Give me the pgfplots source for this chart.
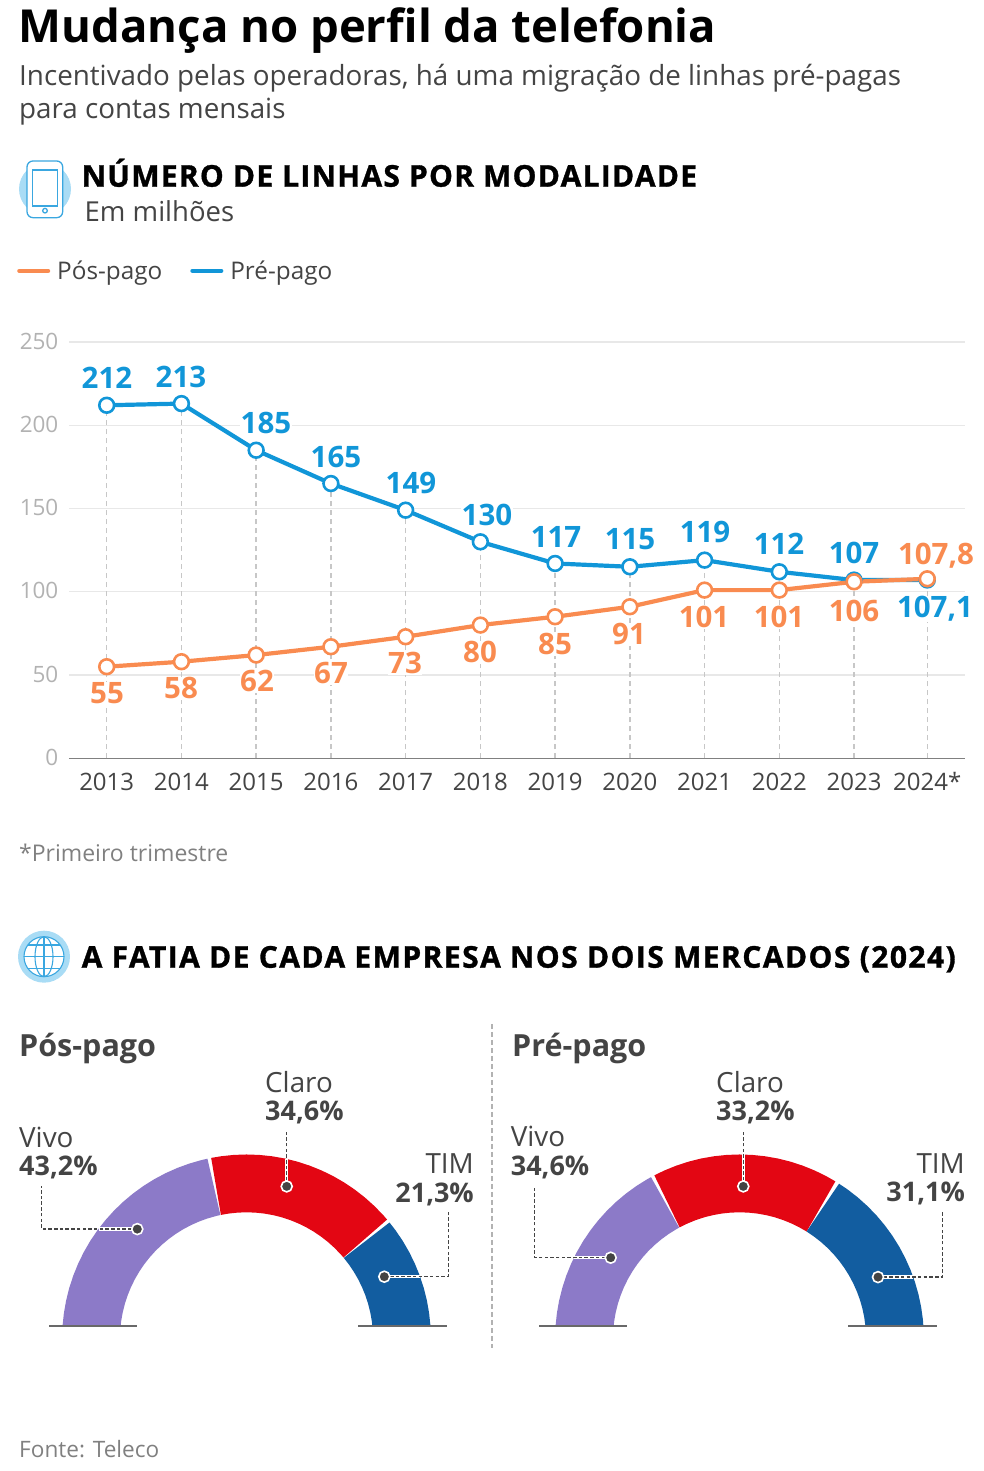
\documentclass[border=0pt]{standalone}
\usepackage{fontspec}
\usepackage{pgfplots}
\pgfplotsset{compat=1.18}
\setmainfont{Open Sans}
\newfontfamily\xb[BoldFeatures={FakeBold=1.1,LetterSpace=4.2}]{Open Sans}
\newfontfamily\xc[BoldFeatures={FakeBold=1.1,LetterSpace=4.8}]{Open Sans}
\newcommand{\fs}[1]{\fontsize{#1}{#1}\selectfont}
\definecolor{pos}{HTML}{F98B50}
\definecolor{pre}{HTML}{1196D8}
\definecolor{vivo}{HTML}{8C7AC8}
\definecolor{claro}{HTML}{E30613}
\definecolor{tim}{HTML}{125DA0}
\definecolor{txt}{HTML}{444444}
\definecolor{icon}{HTML}{A9DCF5}
\definecolor{iconl}{HTML}{3AA7E0}

% line chart data, in millions
\pgfplotstableread{
x y
2013 212
2014 213
2015 185
2016 165
2017 149
2018 130
2019 117
2020 115
2021 119
2022 112
2023 107
2023.98 107.1
}\prepago
\pgfplotstableread{
x y
2013 55
2014 58
2015 62
2016 67
2017 73
2018 80
2019 85
2020 91
2021 101
2022 101
2023 106
2023.98 107.8
}\pospago

\pgfplotsset{
  donut/.style={scale only axis, width=430pt, height=202.5pt, anchor=south west,
    axis lines=none, xmin=-215, xmax=215, ymin=12.5, ymax=215},
  arc/.style={no marks, line width=57.8pt, color=#1},
  leader/.style={no marks, dash pattern=on 3.5pt off 2.2pt, color=txt, line width=1.5pt},
  under/.style={no marks, color=white, line width=3.5pt},
  dot/.style={only marks, mark=*, mark size=5.5, mark options={draw=white, fill=txt, line width=1.6pt}},
  base/.style={no marks, color=txt!80, line width=3.2pt},
}
\tikzset{
  val/.style={anchor=base, fill=white, inner sep=0.5pt, font=\fs{29.5}\bfseries},
  lab/.style={inner sep=0pt, text=txt, font=\fs{27.8}},
  labb/.style={inner sep=0pt, text=txt, font=\fs{27}\bfseries},
}

\begin{document}
\begin{tikzpicture}
\useasboundingbox (0,0) rectangle (984pt,1471pt);

% line chart: one unit of y is 1.665 px
\begin{axis}[
  scale only axis, width=896pt, height=416.3pt,
  at={(69pt,712.7pt)}, anchor=south west,
  xmin=2012.4955, xmax=2024.485, ymin=0, ymax=250,
  axis lines=left, axis line style={-},
  y axis line style={draw=none},
  x axis line style={draw=black!50, line width=1.5pt},
  tick style={draw=none},
  xtick={2013,...,2023,2023.98},
  xticklabels={2013,2014,2015,2016,2017,2018,2019,2020,2021,2022,2023,2024*},
  ytick={0,50,100,150,200,250},
  ymajorgrids, grid style={draw=black!9, line width=1.2pt},
  x tick label style={font=\fs{24}, text=txt, text height=18pt, text depth=0pt, yshift=-9pt},
  y tick label style={font=\fs{22.5}, text=black!30, xshift=-5pt, yshift=1pt},
  /pgf/number format/assume math mode=true,
  reverse legend,
  legend columns=2,
  legend style={at={(-0.0580,1.171)}, anchor=west, draw=none, fill=none, inner sep=0pt,
    font=\fs{24.3}, text=txt,
    /tikz/every odd column/.append style={column sep=5pt},
    /tikz/every even column/.append style={column sep=26pt}},
  legend image code/.code={\draw[line width=4pt, line cap=round, #1] (0pt,0pt) -- (29pt,0pt);},
]
\addplot[ycomb, no marks, forget plot, color=black!22, line width=1.4pt, dash pattern=on 5pt off 4pt] table[x=x,y=y] {\prepago};
\addplot[color=pre, line width=4.2pt, mark=*, mark size=7.4, mark options={fill=white, line width=2.6pt}] table[x=x,y=y] {\prepago};
\addlegendentry{Pré-pago}
\addplot[color=pos, line width=4.2pt, mark=*, mark size=7.4, mark options={fill=white, line width=2.6pt}] table[x=x,y=y] {\pospago};
\addlegendentry{Pós-pago}
\end{axis}

% Pos-pago arc: circle centre is 12.5 px under the base line
\begin{axis}[donut, at={(31.5pt,144.6pt)}]
\addplot[arc=vivo] table[x expr={155.5*cos(\thisrow{a})}, y expr={155.5*sin(\thisrow{a})}, row sep=\\]
 {a\\180\\176\\172\\168\\164\\160\\156\\152\\148\\144\\140\\136\\132\\128\\124\\120\\116\\112\\108\\104\\102.1\\};
\addplot[arc=claro] table[x expr={155.5*cos(\thisrow{a})}, y expr={155.5*sin(\thisrow{a})}, row sep=\\]
 {a\\101.3\\98\\94\\90\\86\\82\\78\\74\\70\\66\\62\\58\\54\\50\\46\\42\\40.2\\};
\addplot[arc=tim] table[x expr={155.5*cos(\thisrow{a})}, y expr={155.5*sin(\thisrow{a})}, row sep=\\]
 {a\\39.4\\36\\32\\28\\24\\20\\16\\12\\8\\4\\0\\};
\addplot[base] coordinates {(-197.5,12.5) (-109.2,12.5)};
\addplot[base] coordinates {(111.8,12.5) (200.2,12.5)};
\addplot[under] coordinates {(-109.2,109.8) (-148,109.8)};
\addplot[under] coordinates {(40.2,152.5) (40.2,180)};
\addplot[under] coordinates {(137.8,62.2) (173.6,62.2)};
\addplot[leader] coordinates {(-109.2,109.8) (-204.8,109.8) (-204.8,152.5)};
\addplot[leader] coordinates {(40.2,152.5) (40.2,207.8)};
\addplot[leader] coordinates {(137.8,62.2) (201.8,62.2) (201.8,126.8)};
\addplot[dot] coordinates {(-109.2,109.8) (40.2,152.5) (137.8,62.2)};
\end{axis}

% Pre-pago arc
\begin{axis}[donut, at={(524.5pt,144.6pt)}]
\addplot[arc=vivo] table[x expr={155.5*cos(\thisrow{a})}, y expr={155.5*sin(\thisrow{a})}, row sep=\\]
 {a\\180\\176\\172\\168\\164\\160\\156\\152\\148\\144\\140\\136\\132\\128\\124\\120\\118.6\\};
\addplot[arc=claro] table[x expr={155.5*cos(\thisrow{a})}, y expr={155.5*sin(\thisrow{a})}, row sep=\\]
 {a\\117.8\\114\\110\\106\\102\\98\\94\\90\\86\\82\\78\\74\\70\\66\\62\\58.4\\};
\addplot[arc=tim] table[x expr={155.5*cos(\thisrow{a})}, y expr={155.5*sin(\thisrow{a})}, row sep=\\]
 {a\\57.6\\54\\50\\46\\42\\38\\34\\30\\26\\22\\18\\14\\10\\6\\2\\0\\};
\addplot[base] coordinates {(-200.5,12.5) (-112.2,12.5)};
\addplot[base] coordinates {(108.5,12.5) (197.2,12.5)};
\addplot[under] coordinates {(-128.8,81.2) (-165.6,81.2)};
\addplot[under] coordinates {(3.8,152.5) (3.8,184.4)};
\addplot[under] coordinates {(138.5,61.8) (173.7,61.8)};
\addplot[leader] coordinates {(-128.8,81.2) (-204.8,81.2) (-204.8,152.8)};
\addplot[leader] coordinates {(3.8,152.5) (3.8,206.8)};
\addplot[leader] coordinates {(138.5,61.8) (202.8,61.8) (202.8,126.8)};
\addplot[dot] coordinates {(-128.8,81.2) (3.8,152.5) (138.5,61.8)};
\end{axis}

% everything below in reference pixels, y going down
\begin{scope}[x=1pt, y=-1pt, yshift=1471pt]
\node[anchor=base west, inner sep=0pt, font=\fs{45.5}\bfseries] at (18.5,43) {Mudança no perfil da telefonia};
\node[anchor=base west, inner sep=0pt, text=txt, font=\fs{27.8}] at (19,86) {Incentivado pelas operadoras, há uma migração de linhas pré-pagas};
\node[anchor=base west, inner sep=0pt, text=txt, font=\fs{27.8}] at (19,119) {para contas mensais};

% phone icon
\fill[icon] (45,189) circle (26);
\draw[iconl, fill=white, line width=1.3pt, rounded corners=6pt] (27,161) rectangle (62.7,217.7);
\draw[iconl, line width=1.3pt] (32.3,170) rectangle (57.3,206);
\draw[iconl, line width=1.3pt] (45,210.7) circle (2.3);
\node[anchor=base west, inner sep=0pt, font=\fs{30}\xb\bfseries] at (81.5,186.7) {NÚMERO DE LINHAS POR MODALIDADE};
\node[anchor=base west, inner sep=0pt, text=txt, font=\fs{27.5}] at (84.5,222) {Em milhões};

% value labels
\foreach \x/\y/\t in {107/389/212,181/388/213,266/434/185,336/468/165,411/494/149,487/526/130,556/548/117,630/550/115,705/543/119,779/555/112,854/564/107,935/618/{107,1}}
  \node[val, text=pre] at (\x,\y) {\t};
\foreach \x/\y/\t in {107/704/55,181/699/58,257/692/62,331/684/67,405/674/73,480/663/80,555/655/85,629/645/91,704/628/101,779/628/101,854/622/106,936/565/{107,8}}
  \node[val, text=pos] at (\x,\y) {\t};

\node[anchor=base west, inner sep=0pt, text=black!50, font=\fs{23}] at (19,862) {*Primeiro trimestre};

% globe icon
\fill[icon] (44,956.7) circle (26);
\fill[white] (44,956.7) circle (20);
\begin{scope}[iconl, line width=1.1pt]
\draw (44,956.7) circle (20);
\draw (44,956.7) ellipse (9 and 20);
\draw (44,936.7) -- (44,976.7);
\draw (24,956.7) -- (64,956.7);
\draw (28,945) -- (60,945);
\draw (28,968.4) -- (60,968.4);
\end{scope}
\node[anchor=base west, inner sep=0pt, font=\fs{30}\xc\bfseries] at (81.5,967.7) {A FATIA DE CADA EMPRESA NOS DOIS MERCADOS (2024)};

\node[anchor=base west, inner sep=0pt, text=txt, font=\fs{30.5}\bfseries] at (19,1057) {Pós-pago};
\node[anchor=base west, inner sep=0pt, text=txt, font=\fs{30.5}\bfseries] at (512,1057) {Pré-pago};
\draw[black!30, line width=1.2pt, dash pattern=on 5pt off 3pt] (492,1024) -- (492,1348);

\node[lab, anchor=base west] at (19,1147.7) {Vivo};
\node[labb, anchor=base west] at (19,1176) {43,2\%};
\node[lab, anchor=base west] at (265,1092.7) {Claro};
\node[labb, anchor=base west] at (265,1121) {34,6\%};
\node[lab, anchor=base east] at (474,1174) {TIM};
\node[labb, anchor=base east] at (474,1202.7) {21,3\%};
\node[lab, anchor=base west] at (510.7,1147) {Vivo};
\node[labb, anchor=base west] at (510.7,1175.3) {34,6\%};
\node[lab, anchor=base west] at (716,1092.7) {Claro};
\node[labb, anchor=base west] at (716,1121) {33,2\%};
\node[lab, anchor=base east] at (965,1173.3) {TIM};
\node[labb, anchor=base east] at (965,1201.7) {31,1\%};

\node[anchor=base west, inner sep=0pt, text=black!50, font=\fs{22.6}] at (19,1458) {Fonte: Teleco};
\end{scope}
\end{tikzpicture}
\end{document}
